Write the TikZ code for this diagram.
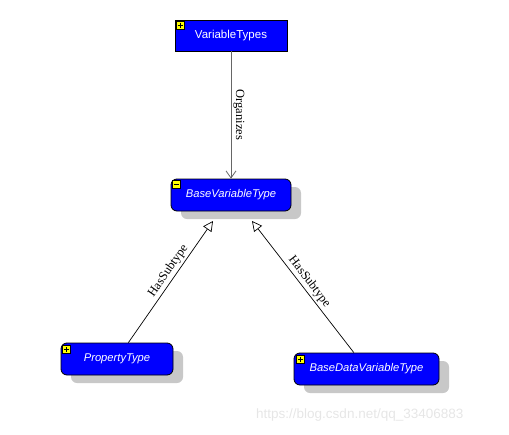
\documentclass[tikz,border=0pt]{standalone}
\usepackage{fontspec}
\setmainfont{Liberation Sans}
\newfontfamily\lblfont{Liberation Serif}
\usetikzlibrary{arrows.meta,calc}
\definecolor{nodeblue}{RGB}{0,0,255}
\definecolor{shadowgray}{RGB}{200,200,200}
\definecolor{wmgray}{RGB}{230,230,230}
\definecolor{iconyellow}{RGB}{255,255,0}
\begin{document}
\begin{tikzpicture}[x=1pt,y=-1pt,
  typebox/.style={draw=black, fill=nodeblue, text=white, inner sep=0pt, line width=0.8pt,
    font=\fontsize{11.5}{13}\selectfont},
  roundbox/.style={typebox, rounded corners=6pt, font=\fontsize{11.2}{13}\selectfont\itshape},
  shadowbox/.style={fill=shadowgray, rounded corners=6pt, inner sep=0pt},
  lbl/.style={font=\lblfont\fontsize{12.5}{14}\selectfont, inner sep=2pt},
  conn/.style={draw=black, line width=0.7pt},
  plusicon/.pic={\draw[fill=iconyellow, line width=0.5pt] (0,0) rectangle (8,8);
                 \draw[line width=1.1pt] (4,1.5) -- (4,6.5) (1.5,4) -- (6.5,4);},
  minusicon/.pic={\draw[fill=iconyellow, line width=0.5pt] (0,0) rectangle (8,8);
                  \draw[line width=1.1pt] (1.5,4) -- (6.5,4);},
]
\useasboundingbox (0,0) rectangle (509,434);

% shadows
\node[shadowbox, minimum width=120pt, minimum height=32pt] (sbvt) at (241,203) {};
\node[shadowbox, minimum width=112pt, minimum height=32pt] (spt) at (127,367) {};
\node[shadowbox, minimum width=145pt, minimum height=32pt] (sbdvt) at (376.5,377) {};

% boxes
\node[typebox, minimum width=112pt, minimum height=31pt] (vt) at (231,35.5) {VariableTypes};
\node[roundbox, minimum width=120pt, minimum height=32pt] (bvt) at (231,195) {BaseVariableType};
\node[roundbox, minimum width=112pt, minimum height=32pt] (pt) at (117,359) {PropertyType};
\node[roundbox, minimum width=145pt, minimum height=32pt] (bdvt) at (366.5,369) {BaseDataVariableType};

% icons
\pic at ($(vt.north west)+(1.5,1.5)$) {plusicon};
\pic at ($(bvt.north west)+(1.5,2)$) {minusicon};
\pic at ($(pt.north west)+(2,3)$) {plusicon};
\pic at ($(bdvt.north west)+(3,3)$) {plusicon};

% connectors
\coordinate (t1) at ($(bvt.center)+(-18,26)$);
\coordinate (t2) at ($(bvt.center)+(21,26)$);

\draw[draw=black!60, line width=0.8pt, -{Straight Barb[length=7pt,width=10pt]}]
  (vt) -- node[lbl, midway, rotate=-90, anchor=south]{Organizes} (bvt);
\draw[conn, -{Triangle[open,length=10pt,width=10pt,fill=white]}]
  (pt) -- node[lbl, sloped, above, pos=0.55]{HasSubtype} (t1);
\draw[conn, -{Triangle[open,length=10pt,width=10pt,fill=white]}]
  (bdvt) -- node[lbl, sloped, above, pos=0.5]{HasSubtype} (t2);

% watermark
\node[text=wmgray, font=\fontsize{13.5}{15}\selectfont, anchor=west, inner sep=0pt] (wm) at (256,415) {https://blog.csdn.net/qq\_33406883};
\end{tikzpicture}
\end{document}
